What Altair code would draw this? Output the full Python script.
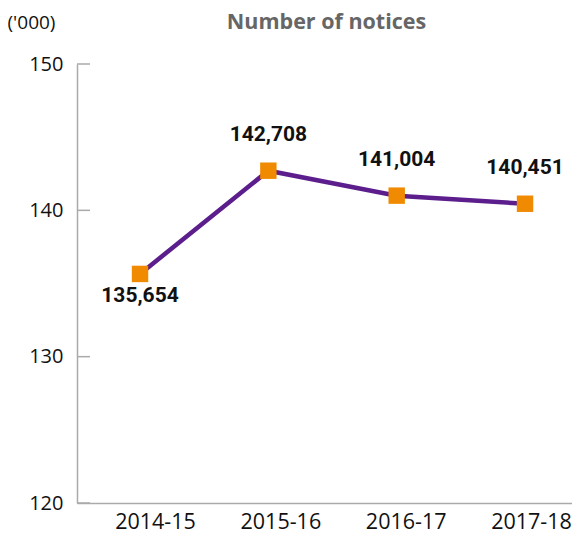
import altair as alt
import pandas as pd

years = ["2014-15", "2015-16", "2016-17", "2017-18"]
notices = [135.654, 142.708, 141.004, 140.451]
labels = ["135,654", "142,708", "141,004", "140,451"]
label_pos = ["below", "above", "above", "above"]
y_ticks = [120, 130, 140, 150]
x_label_shift = [15, 12, 9, 6]

df = pd.DataFrame({"year": years, "value": notices, "label": labels, "pos": label_pos})
ticks_df = pd.DataFrame({"t": y_ticks})

xscale = alt.Scale(type="point", domain=years, padding=0.4286, align=0.573)
yscale = alt.Scale(domain=[120, 150], nice=False, zero=False)

AX_FONT = "Open Sans"
LAB_FONT = "Roboto"

label_offset = {
    "condition": [
        {"test": f"datum.value == '{y}'", "value": s}
        for y, s in zip(years[:-1], x_label_shift[:-1])
    ],
    "value": x_label_shift[-1],
}

x_enc = alt.X("year:N", scale=xscale, sort=years,
              axis=alt.Axis(title=None, ticks=False, labelAngle=0, labelOffset=label_offset,
                            labelPadding=8, labelFontSize=21.5, labelFont=AX_FONT,
                            labelColor="#111", domainColor="#aaa", domainWidth=1.5))
y_enc = alt.Y("value:Q", scale=yscale,
              axis=alt.Axis(values=y_ticks, ticks=False, grid=False, labelFontSize=20,
                            labelFont=AX_FONT, labelColor="#111", labelPadding=14,
                            domainColor="#aaa", domainWidth=1.5,
                            title="('000)", titleAngle=0, titleAlign="left",
                            titleBaseline="middle", titleX=-70, titleY=-42,
                            titleFont=AX_FONT, titleFontSize=19,
                            titleFontWeight="normal", titleColor="#111"))

xs = alt.X("year:N", scale=xscale, sort=years)
ys = alt.Y("value:Q", scale=yscale)

base = alt.Chart(df)

line = base.mark_line(color="#5C1E8C", strokeWidth=4.5).encode(x=x_enc, y=y_enc)
pts = base.mark_point(shape="square", filled=True, opacity=1, color="#F08A00", size=270).encode(x=xs, y=ys)

lab_low = base.transform_filter("datum.pos == 'below'").mark_text(
    dy=22, fontSize=21, fontWeight="bold", font=LAB_FONT, color="#111"
).encode(x=xs, y=ys, text="label:N")
lab_high = base.transform_filter("datum.pos == 'above'").mark_text(
    dy=-36, fontSize=21, fontWeight="bold", font=LAB_FONT, color="#111"
).encode(x=xs, y=ys, text="label:N")

tick_rules = alt.Chart(ticks_df).mark_rule(color="#aaa", strokeWidth=1.5).encode(
    x=alt.value(0), x2=alt.value(13), y=alt.Y("t:Q", scale=yscale))

chart = alt.layer(tick_rules, line, pts, lab_low, lab_high).properties(
    width=495, height=439,
    padding={"left": 69, "top": 56, "right": 0, "bottom": 33},
    autosize=alt.AutoSizeParams(type="none"),
    title=alt.TitleParams("Number of notices", font=AX_FONT, fontSize=21.5,
                          fontWeight="bold", color="#666", offset=-20, dx=2,
                          anchor="middle"),
).configure_view(stroke=None)

chart.save("out.html", embed_options={"renderer": "svg", "actions": False})
